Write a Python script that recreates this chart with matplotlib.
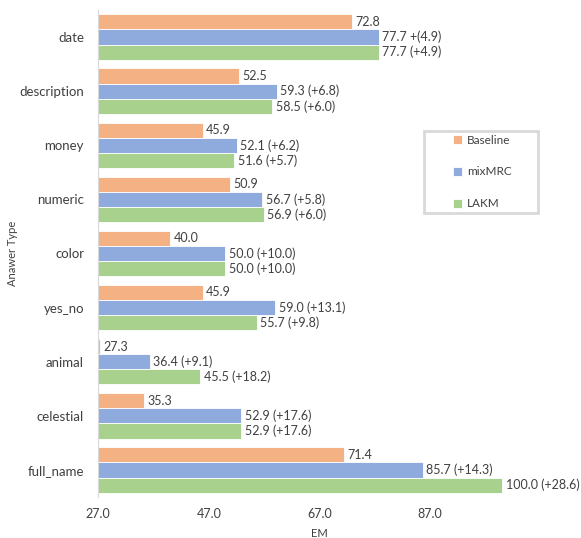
import matplotlib
matplotlib.use("Agg")
import matplotlib.pyplot as plt
from matplotlib.patches import Rectangle
import numpy as np

plt.rcParams['font.family'] = ['Lato', 'DejaVu Sans']

categories = ["date", "description", "money", "numeric", "color", "yes_no",
              "animal", "celestial", "full_name"]
baseline = [72.8, 52.5, 45.9, 50.9, 40.0, 45.9, 27.3, 35.3, 71.4]
mixmrc = [77.7, 59.3, 52.1, 56.7, 50.0, 59.0, 36.4, 52.9, 85.7]
lakm = [77.7, 58.5, 51.6, 56.9, 50.0, 55.7, 45.5, 52.9, 100.0]
mixmrc_labels = ["77.7 +(4.9)", "59.3 (+6.8)", "52.1 (+6.2)", "56.7 (+5.8)",
                 "50.0 (+10.0)", "59.0 (+13.1)", "36.4 (+9.1)", "52.9 (+17.6)",
                 "85.7 (+14.3)"]
lakm_labels = ["77.7 (+4.9)", "58.5 (+6.0)", "51.6 (+5.7)", "56.9 (+6.0)",
               "50.0 (+10.0)", "55.7 (+9.8)", "45.5 (+18.2)", "52.9 (+17.6)",
               "100.0 (+28.6)"]
series_names = ["Baseline", "mixMRC", "LAKM"]
xticks = [27.0, 47.0, 67.0, 87.0]
xmin, xmax = 27.0, 107.0

colors = ["#F4B183", "#8FAADC", "#A9D18E"]
W, H = 581, 538

fig = plt.figure(figsize=(W/100, H/100), dpi=100)
ax = fig.add_axes([98/W, 1-497/H, (541-98)/W, (497-10)/H])

n = len(categories)
pos = np.arange(n)
h = 0.28
series = [baseline, mixmrc, lakm]
labels_all = [[f"{v:.1f}" for v in baseline], mixmrc_labels, lakm_labels]
for i, (vals, lab) in enumerate(zip(series, labels_all)):
    y = pos + (i - 1) * h
    widths = [v - xmin for v in vals]
    ax.barh(y, widths, left=xmin, height=h, color=colors[i], edgecolor="white",
            linewidth=0.6, label=series_names[i])
    for yy, v, t in zip(y, vals, lab):
        ax.text(v + 0.6, yy, t, va="center", ha="left", fontsize=9, color="#404040")

ax.set_ylim(n - 0.5, -0.5)
ax.set_yticks(pos)
ax.set_yticklabels(categories, fontsize=9.5, color="#404040")
ax.set_xlim(xmin, xmax)
ax.set_xticks(xticks)
ax.set_xticklabels([f"{t:.1f}" for t in xticks], fontsize=9, color="#404040")
ax.tick_params(axis="y", length=0, pad=10)
ax.tick_params(axis="x", length=0, pad=8)
for s in ["top", "right", "bottom"]:
    ax.spines[s].set_visible(False)
ax.spines["left"].set_color("#d9d9d9")
ax.set_xlabel("EM", fontsize=8, color="#404040", labelpad=6)
ax.set_ylabel("Anawer Type", fontsize=8, color="#404040")
ax.yaxis.set_label_coords((18-98)/443, 0.5)

leg = ax.legend(loc="center", bbox_to_anchor=(482/W, 1-172/H),
                bbox_transform=fig.transFigure,
                frameon=False, fontsize=8.5, handlelength=0.8,
                handleheight=0.8, labelspacing=1.75, borderpad=0,
                handletextpad=0.4)
for t in leg.get_texts():
    t.set_color("#404040")
fig.patches.append(Rectangle((424/W, 1-213/H), (538-424)/W, (213-131)/H,
                             transform=fig.transFigure, facecolor="none",
                             edgecolor="#d9d9d9", linewidth=2, zorder=5))

fig.savefig("out.png", dpi=100)
